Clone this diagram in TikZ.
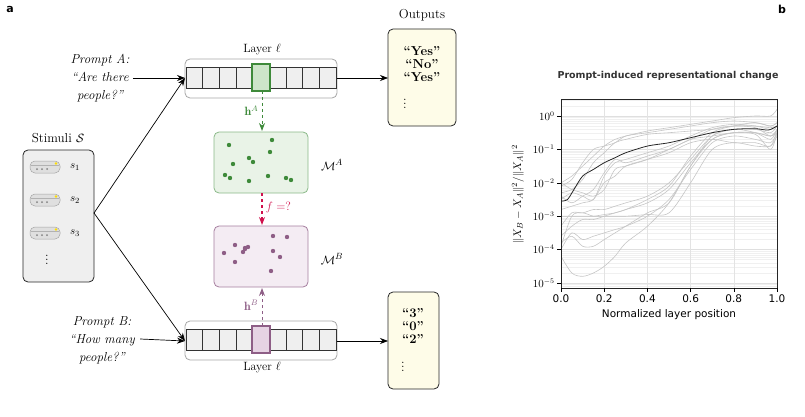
\documentclass[tikz,border=0pt]{standalone}
\usepackage{amsmath,amssymb}
\usepackage{fontspec}
\newfontfamily\plotfont{DejaVu Sans}
\usetikzlibrary{arrows.meta,positioning}
\definecolor{mgreen}{HTML}{3E8A3A}
\definecolor{lgreen}{HTML}{E9F3E7}
\definecolor{hgreen}{HTML}{CDE5C9}
\definecolor{mpurple}{HTML}{8E5E86}
\definecolor{lpurple}{HTML}{F4ECF3}
\definecolor{hpurple}{HTML}{E6D3E3}
\definecolor{crim}{HTML}{D0104C}
\definecolor{cream}{HTML}{FEFCE8}
\definecolor{cellgray}{HTML}{EFEFEF}
\tikzset{
  main/.style={font=\fontsize{13}{16}\selectfont},
  bar/.style={draw=gray!70, rounded corners=5pt, line width=0.8pt},
  cell/.style={draw=black!80, fill=cellgray, line width=0.6pt},
  flow/.style={-{Stealth[length=8pt,width=6pt]}, line width=0.7pt},
  outbox/.style={draw=black!85, fill=cream, rounded corners=5pt, line width=0.8pt},
  mfld/.style={rounded corners=5pt, line width=0.8pt},
  pill/.style={draw=gray!70, fill=gray!25, rounded corners=5pt, line width=0.5pt},
  gcurve/.style={gray!45, line width=0.6pt},
}
\newcommand{\layerbar}[3]{% top y, cell color, fill
  \draw[bar] (185,#1) rectangle (337,#1+39);
  \foreach \i in {0,...,8}
    \draw[cell] (186+16.67*\i,#1+8) rectangle (186+16.67*\i+16.67,#1+29);
  \filldraw[draw=#2, fill=#3, line width=1.2pt] (252,#1+5) rectangle (270,#1+32);
}
\begin{document}
\begin{tikzpicture}[x=1pt,y=-1pt,main]
\useasboundingbox (0,0) rectangle (805,417);
\node[font=\plotfont\bfseries\fontsize{11}{12}\selectfont] at (10,9) {a};
\node[font=\plotfont\bfseries\fontsize{11}{12}\selectfont] at (782,9) {b};
% layers
\layerbar{59}{mgreen}{hgreen}
\layerbar{321}{mpurple}{hpurple}
\coordinate (barA) at (185,78);
\coordinate (barAr) at (337,78);
\coordinate (barB) at (185,341);
\coordinate (barBr) at (337,341);
\coordinate (hA) at (262,91);
\coordinate (hB) at (262,326);
\node[font=\fontsize{12}{14}\selectfont] (layA) at (262,50) {Layer $\ell$};
\node[font=\fontsize{12}{14}\selectfont] (layB) at (262,368) {Layer $\ell$};
% prompts
\node[align=center, font=\itshape\fontsize{13}{18}\selectfont] (pA) at (100,78) {Prompt A:\\``Are there\\people?''};
\node[align=center, font=\itshape\fontsize{13}{18}\selectfont] (pB) at (102,340) {Prompt B:\\``How many\\people?''};
\draw[flow] (pA.east) -- (barA);
\draw[flow] ([yshift=1pt,xshift=2pt]pB.east) -- (barB);
% outputs
\node (outlab) at (422,15) {Outputs};
\draw[outbox] (388,29) rectangle (456,126);
\coordinate (outA) at (388,78);
\node[font=\bfseries\fontsize{13}{16}\selectfont, align=center] at (422,64) {``Yes''\\[-3pt]``No''\\[-3pt]``Yes''};
\node at (405,101) {$\vdots$};
\draw[outbox] (388,292) rectangle (439,389);
\coordinate (outB) at (388,341);
\node[font=\bfseries\fontsize{13}{16}\selectfont, align=center] at (413,326) {``3''\\[-3pt]``0''\\[-3pt]``2''};
\node at (403,364) {$\vdots$};
\draw[flow] (barAr) -- (outA);
\draw[flow] (barBr) -- (outB);
% manifolds
\draw[mfld, draw=mgreen!60, fill=lgreen] (214,132) rectangle (308,193);
\draw[mfld, draw=mpurple!80, fill=lpurple] (214,226) rectangle (308,287);
\coordinate (MAt) at (262,131);
\coordinate (MAb) at (262,193);
\coordinate (MBt) at (262,225);
\coordinate (MBb) at (262,288);
\node (MA) at (332,165) {$\mathcal{M}^A$};
\node (MB) at (332,259) {$\mathcal{M}^B$};
\foreach \p in {(229,145),(272,140),(270,152),(233,164),(249,158),(253,162),(225,175),(230,178),(249,181),(268,176),(286,178),(291,180)}
  \fill[mgreen] \p circle (2.2);
\foreach \p in {(224,253),(235,245),(245,248),(248,247),(243,252),(245,249),(235,262),(273,236),(287,237),(273,251),(280,257),(271,271)}
  \fill[mpurple] \p circle (2.2);
\draw[flow, dashed, mgreen, line width=1pt] (hA) -- (MAt) node[pos=0.5, left, font=\fontsize{12}{14}\selectfont] {$\mathbf{h}^A$};
\draw[flow, dashed, crim, line width=1.2pt] (MAb) -- (MBt) node[pos=0.45, right, font=\fontsize{12}{14}\selectfont] {$f=?$};
\draw[flow, dashed, mpurple, line width=1pt] (hB) -- (MBb) node[pos=0.55, left, font=\fontsize{12}{14}\selectfont] {$\mathbf{h}^B$};
% stimuli
\node (stimlab) at (58,138) {Stimuli $\mathcal{S}$};
\draw[draw=black!85, fill=cellgray, rounded corners=5pt, line width=0.8pt] (23,150) rectangle (94,282);
\foreach \y/\s in {167/1,200/2,233/3} {
  \draw[pill] (30,\y-6) rectangle (60,\y+6);
  \draw[gray!60, line width=0.4pt] (31,\y-2) -- (59,\y-2);
  \foreach \d in {37,42,47} \fill[gray] (\d,\y+2) circle (1);
  \fill[yellow!80!orange] (56,\y-3.5) circle (1.3);
  \node[font=\fontsize{11}{12}\selectfont] at (75,\y) {$s_{\s}$};
}
\node at (47,257) {$\vdots$};
\coordinate (stim) at (94,213);
\draw[flow] (stim) -- (barA);
\draw[flow] (stim) -- (barB);
% plot b
\node[font=\plotfont\bfseries\fontsize{9.5}{11}\selectfont, text=black!80] at (668,76) {Prompt-induced representational change};
\begin{scope}[shift={(561,116)}, x=216pt, y=33.4pt]
  \begin{scope}
  \clip (0,-5.15) rectangle (1,0.5);
  \foreach \e in {-6,...,0} {
    \foreach \m in {2,...,9}
      \draw[gray!12, line width=0.4pt] (0,{\e+log10(\m)}) -- (1,{\e+log10(\m)});
    \draw[gray!25, line width=0.5pt] (0,\e) -- (1,\e);
  }
  \foreach \x in {0.2,0.4,0.6,0.8}
    \draw[gray!22, line width=0.5pt] (\x,-5.15) -- (\x,0.5);
  \draw[gcurve] plot[smooth] coordinates {(0,-2)(0.05,-1.8)(0.1,-1.5)(0.15,-1.2)(0.2,-0.9)(0.25,-0.7)(0.3,-0.6)(0.4,-0.45)(0.5,-0.35)(0.6,-0.25)(0.7,-0.15)(0.8,-0.05)(0.9,0)(0.97,0)(1,0.2)};
  \draw[gcurve] plot[smooth] coordinates {(0,-2.1)(0.05,-1.9)(0.1,-1.4)(0.15,-1.0)(0.2,-0.9)(0.25,-0.8)(0.3,-0.6)(0.4,-0.5)(0.5,-0.4)(0.6,-0.3)(0.7,-0.2)(0.8,-0.15)(0.9,-0.2)(0.97,-0.3)(1,-0.2)};
  \draw[gcurve] plot[smooth] coordinates {(0,-2.3)(0.05,-2.2)(0.1,-1.9)(0.15,-1.4)(0.2,-1.1)(0.25,-0.8)(0.3,-0.7)(0.4,-0.55)(0.5,-0.5)(0.6,-0.45)(0.7,-0.4)(0.8,-0.3)(0.9,-0.3)(0.97,-0.35)(1,-0.3)};
  \draw[gcurve] plot[smooth] coordinates {(0,-2.5)(0.05,-2.3)(0.1,-2.4)(0.15,-2.5)(0.2,-1.8)(0.25,-1.4)(0.3,-1.3)(0.4,-1.1)(0.5,-0.9)(0.6,-0.6)(0.7,-0.35)(0.8,-0.25)(0.9,-0.3)(0.97,-0.4)(1,-0.3)};
  \draw[gcurve] plot[smooth] coordinates {(0,-2)(0.05,-2.2)(0.1,-2.3)(0.15,-2.4)(0.2,-2.2)(0.25,-1.6)(0.3,-1.5)(0.4,-1.3)(0.5,-1.0)(0.6,-0.7)(0.7,-0.4)(0.8,-0.3)(0.9,-0.35)(0.97,-0.6)(1,-0.4)};
  \draw[gcurve] plot[smooth] coordinates {(0,-2.4)(0.05,-2.6)(0.1,-2.4)(0.15,-2.2)(0.2,-1.7)(0.25,-1.3)(0.3,-1.4)(0.4,-1.2)(0.5,-1.0)(0.6,-0.7)(0.7,-0.6)(0.8,-0.5)(0.9,-0.55)(0.97,-1.0)(1,-0.5)};
  \draw[gcurve] plot[smooth] coordinates {(0,-2.8)(0.05,-2.7)(0.1,-2.6)(0.15,-2.5)(0.2,-2.0)(0.25,-1.8)(0.3,-1.5)(0.4,-1.3)(0.5,-1.1)(0.6,-0.8)(0.7,-0.7)(0.8,-0.8)(0.9,-0.8)(0.97,-0.9)(1,-0.4)};
  \draw[gcurve] plot[smooth] coordinates {(0,-3.3)(0.05,-2.9)(0.1,-2.9)(0.15,-2.8)(0.2,-2.8)(0.25,-2.7)(0.3,-2.6)(0.4,-2.4)(0.5,-2.0)(0.6,-1.3)(0.7,-0.6)(0.8,-0.4)(0.9,-0.4)(0.97,-0.5)(1,-0.3)};
  \draw[gcurve] plot[smooth] coordinates {(0,-3)(0.05,-3)(0.1,-3)(0.15,-3)(0.2,-2.95)(0.25,-2.9)(0.3,-2.8)(0.4,-2.6)(0.5,-2.2)(0.6,-1.4)(0.7,-0.7)(0.8,-0.5)(0.9,-0.5)(0.97,-0.6)(1,-0.4)};
  \draw[gcurve] plot[smooth] coordinates {(0,-3.6)(0.05,-3.3)(0.1,-3.1)(0.15,-3.1)(0.2,-3.0)(0.25,-2.9)(0.3,-2.8)(0.4,-2.5)(0.5,-2.1)(0.6,-1.2)(0.7,-0.5)(0.8,-0.3)(0.9,-0.2)(0.97,-0.3)(1,-0.2)};
  \draw[gcurve] plot[smooth] coordinates {(0,-4)(0.05,-3.5)(0.1,-3.7)(0.15,-3.6)(0.2,-3.5)(0.25,-3.4)(0.3,-3.3)(0.4,-3.0)(0.5,-2.5)(0.6,-1.6)(0.7,-0.8)(0.8,-0.6)(0.9,-0.7)(0.97,-0.8)(1,-0.5)};
  \draw[gcurve] plot[smooth] coordinates {(0,-3.8)(0.05,-3.6)(0.1,-3.9)(0.15,-3.9)(0.2,-3.7)(0.25,-3.5)(0.3,-3.3)(0.4,-2.9)(0.5,-2.6)(0.6,-1.5)(0.7,-0.6)(0.8,-0.4)(0.9,-0.5)(0.97,-0.7)(1,-0.4)};
  \draw[gcurve] plot[smooth] coordinates {(0,-4.2)(0.05,-4.7)(0.1,-4.8)(0.15,-4.7)(0.2,-4.5)(0.25,-4.2)(0.3,-3.8)(0.4,-3.3)(0.5,-2.6)(0.6,-1.5)(0.7,-0.7)(0.8,-0.5)(0.9,-0.5)(0.97,-0.6)(1,-0.5)};
  \draw[gcurve] plot[smooth] coordinates {(0,-3.9)(0.05,-3.0)(0.1,-2.9)(0.15,-3.0)(0.2,-3.0)(0.25,-3.0)(0.3,-3.0)(0.4,-2.95)(0.5,-2.9)(0.6,-2.0)(0.7,-1.0)(0.8,-0.8)(0.9,-0.9)(0.97,-0.9)(1,-0.6)};
  \draw[black!85, line width=0.8pt] plot[smooth] coordinates {(0,-2.55)(0.03,-2.5)(0.06,-2.2)(0.1,-1.8)(0.15,-1.6)(0.2,-1.4)(0.25,-1.25)(0.3,-1.1)(0.4,-0.9)(0.5,-0.8)(0.6,-0.65)(0.7,-0.5)(0.8,-0.4)(0.9,-0.38)(0.96,-0.42)(1,-0.3)};
  \end{scope}
  \draw[black!85, line width=0.7pt] (0,-5.15) rectangle (1,0.5);
  \foreach \e in {0,-1,-2,-3,-4,-5} {
    \draw[line width=0.6pt] (0,\e) -- (-0.02,\e);
    \node[left, font=\plotfont\fontsize{10.5}{12}\selectfont, inner sep=2pt] at (-0.02,\e) {$10^{\e}$};
  }
  \foreach \x in {0.0,0.2,0.4,0.6,0.8,1.0} {
    \draw[line width=0.6pt] (\x,-5.15) -- (\x,-5.27);
    \node[below, font=\plotfont\fontsize{10.5}{12}\selectfont, inner sep=2pt] at (\x,-5.27) {\x};
  }
  \node[font=\plotfont\fontsize{10.5}{12}\selectfont] at (0.5,-5.95) {Normalized layer position};
  \node[rotate=90, font=\fontsize{11}{12}\selectfont] at (-0.2,-2.35) {$\|X_B-X_A\|^2/\|X_A\|^2$};
\end{scope}
\end{tikzpicture}
\end{document}
